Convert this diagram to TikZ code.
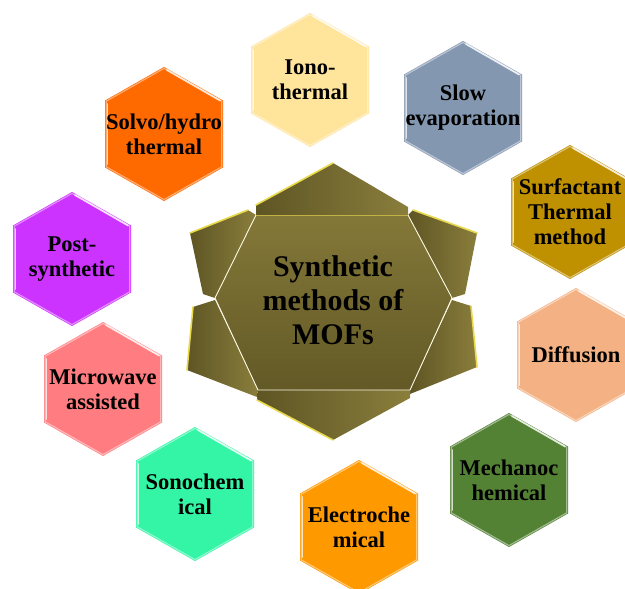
\documentclass[tikz,border=0pt]{standalone}
\usepackage{fontspec}
\setmainfont{Liberation Serif}
\definecolor{ionoC}{HTML}{FFE49C}
\definecolor{slowC}{HTML}{8497B0}
\definecolor{solvoC}{HTML}{FF6A00}
\definecolor{surfC}{HTML}{BF9000}
\definecolor{postC}{HTML}{CC33FF}
\definecolor{diffC}{HTML}{F4B183}
\definecolor{microC}{HTML}{FF7C80}
\definecolor{mechC}{HTML}{548235}
\definecolor{sonoC}{HTML}{33F5A5}
\definecolor{electroC}{HTML}{FF9900}
\definecolor{olvL}{HTML}{5E5524}
\definecolor{olvR}{HTML}{8A7E3C}
\definecolor{olvT}{HTML}{847838}
\definecolor{olvB}{HTML}{625926}
\definecolor{olvY}{HTML}{E8D84C}
\tikzset{
  hextext/.style={font=\fontsize{22.5}{25}\selectfont\bfseries, align=center, text=black, inner sep=0pt},
  centext/.style={font=\fontsize{30}{34}\selectfont\bfseries, align=center, text=black, inner sep=0pt},
  flap/.style={left color=olvL, right color=olvR},
  yedge/.style={draw=olvY, line width=1.6pt, line cap=round},
  wedge/.style={draw=white!85!olvY, line width=0.9pt, line cap=round},
}
\newcommand\hexcell[5]{%
  \begin{scope}[shift={(#2,#3)}]
    \fill[#4] (0,-67) -- (59,-33.5) -- (59,33.5) -- (0,67) -- (-59,33.5) -- (-59,-33.5) -- cycle;
    \draw[#4!55!white, line width=1.2pt, line join=round] (0,-65.6) -- (57.8,-32.8) -- (57.8,32.8) -- (0,65.6) -- (-57.8,32.8) -- (-57.8,-32.8) -- cycle;
    \draw[white, opacity=0.75, line width=1.8pt, line cap=round] (-56.5,-30) -- (-56.5,30);
    \draw[white, opacity=0.75, line width=1.8pt, line cap=round] (3,-64) -- (56,-33.5);
  \end{scope}
  \node[hextext] (#1) at (#2,#3) {#5};
}
\begin{document}
\begin{tikzpicture}[x=1pt,y=-1pt]
\useasboundingbox (0,0) rectangle (625,589);
\fill[white] (0,0) rectangle (625,589);

% outer hexagons
\hexcell{iono}{310}{80}{ionoC}{Iono-\\thermal}
\hexcell{slow}{463}{108}{slowC}{Slow\\evaporation}
\hexcell{solvo}{164}{134}{solvoC}{Solvo/hydro\\thermal}
\hexcell{surf}{570}{212}{surfC}{\fontsize{22.5}{21.5}\selectfont Surfactant\\Thermal\\method}
\hexcell{post}{72}{259}{postC}{Post-\\synthetic}
\hexcell{diff}{576}{355}{diffC}{Diffusion}
\hexcell{micro}{103}{389}{microC}{Microwave\\assisted}
\hexcell{mech}{509}{480}{mechC}{Mechanoc\\hemical}
\hexcell{sono}{195}{494}{sonoC}{Sonochem\\ical}
\hexcell{electro}{359}{527}{electroC}{Electroche\\mical}

% central shape: flaps
\shade[flap] (256,215) -- (256,205) -- (333,163) -- (408,207) -- (408,215) -- cycle;
\shade[flap] (256,215) -- (248,210) -- (190,233) -- (203,294) -- (215,298) -- cycle;
\shade[flap] (408,215) -- (413,210) -- (477,233) -- (465,294) -- (452,298) -- cycle;
\shade[flap] (215,300) -- (193,307) -- (187,370) -- (257,397) -- (258,390) -- cycle;
\shade[flap] (452,300) -- (471,306) -- (477,367) -- (410,394) -- (410,390) -- cycle;
\shade[flap] (258,390) -- (257,400) -- (333,440) -- (410,398) -- (410,390) -- cycle;
% inner hexagon
\shade[top color=olvT, bottom color=olvB] (256,215) -- (408,215) -- (452,298) -- (410,390) -- (258,390) -- (215,298) -- cycle;
% highlight edges
\draw[yedge] (256,205) -- (333,163);
\draw[yedge] (248,210) -- (190,233);
\draw[yedge] (413,210) -- (477,233);
\draw[yedge] (193,307) -- (187,370);
\draw[yedge] (471,306) -- (477,367);
\draw[yedge] (257,400) -- (333,440);
\draw[wedge] (256,215) -- (215,298) -- (258,390) -- (410,390) -- (452,298) -- (408,215);
\draw[draw=olvY!60!olvT, line width=0.8pt] (256,215) -- (408,215);

\node[centext] (center) at (333,300) {Synthetic\\methods of\\MOFs};
\end{tikzpicture}
\end{document}
